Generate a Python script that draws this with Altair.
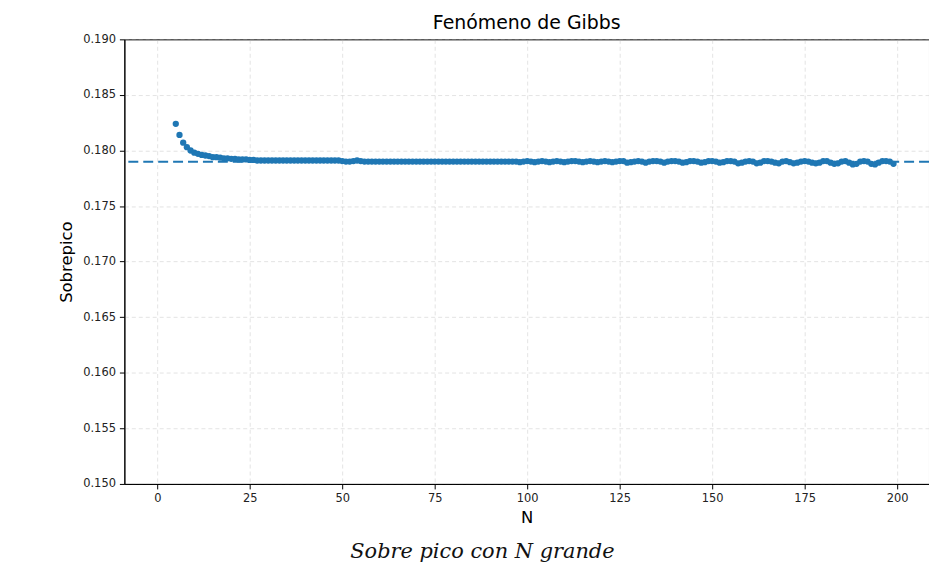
import altair as alt
import pandas as pd

N_VALUES = list(range(5, 200))
SOBREPICO = [
    0.1824, 0.1814, 0.1807, 0.1803, 0.1800, 0.1798, 0.1797, 0.1796, 0.17955, 0.1795,
    0.1794, 0.1794, 0.17935, 0.1793, 0.1793, 0.17925, 0.17925, 0.1792, 0.1792, 0.1792,
    0.17915, 0.17915, 0.1791, 0.1791, 0.1791, 0.1791, 0.1791, 0.1791, 0.1791, 0.1791,
    0.1791, 0.1791, 0.1791, 0.1791, 0.1791, 0.1791, 0.1791, 0.1791, 0.1791, 0.1791,
    0.1791, 0.1791, 0.1791, 0.1791, 0.1791, 0.17905, 0.1790, 0.1790, 0.17905, 0.1791,
    0.17905, 0.1790, 0.1790, 0.1790, 0.1790, 0.1790, 0.1790, 0.1790, 0.1790, 0.1790,
    0.1790, 0.1790, 0.1790, 0.1790, 0.1790, 0.1790, 0.1790, 0.1790, 0.1790, 0.1790,
    0.1790, 0.1790, 0.1790, 0.1790, 0.1790, 0.1790, 0.1790, 0.1790, 0.1790, 0.1790,
    0.1790, 0.1790, 0.1790, 0.1790, 0.1790, 0.1790, 0.1790, 0.1790, 0.1790, 0.1790,
    0.1790, 0.1790, 0.1790, 0.17895, 0.1790, 0.17905, 0.1790, 0.17895, 0.1790, 0.17905,
    0.1790, 0.17895, 0.1790, 0.17905, 0.1790, 0.17895, 0.1790, 0.17905, 0.17905, 0.1790,
    0.17895, 0.1790, 0.17905, 0.1790, 0.17895, 0.1790, 0.17905, 0.1790, 0.17895, 0.1790,
    0.17905, 0.17905, 0.1789, 0.17895, 0.1790, 0.17905, 0.1790, 0.1789, 0.1790, 0.17905,
    0.17905, 0.1790, 0.1789, 0.1790, 0.17905, 0.17905, 0.1790, 0.1789, 0.17895, 0.17905,
    0.17905, 0.1790, 0.1789, 0.17895, 0.17905, 0.17905, 0.1790, 0.1789, 0.17895, 0.17905,
    0.17905, 0.1790, 0.17885, 0.1789, 0.1790, 0.17905, 0.1790, 0.17885, 0.1789, 0.17905,
    0.17905, 0.1790, 0.1789, 0.17885, 0.1790, 0.17905, 0.17895, 0.17885, 0.1789, 0.1790,
    0.17905, 0.1790, 0.1789, 0.17885, 0.1789, 0.17905, 0.17905, 0.1789, 0.1788, 0.17885,
    0.1790, 0.17905, 0.1789, 0.17875, 0.1788, 0.1790, 0.17905, 0.1790, 0.1788, 0.17875,
    0.1789, 0.17905, 0.17905, 0.1790, 0.1788,
]
LIMITE = [0.17898]
X_TICKS = [0, 25, 50, 75, 100, 125, 150, 175, 200]
Y_TICKS = [0.150, 0.155, 0.160, 0.165, 0.170, 0.175, 0.180, 0.185, 0.190]
TITULO = "Fenómeno de Gibbs"
PIE = "Sobre pico con N grande"

df = pd.DataFrame({"N": N_VALUES, "Sobrepico": SOBREPICO})
df_lim = pd.DataFrame({"y": LIMITE})
df_pie = pd.DataFrame({"t": [PIE]})

BLUE = "#1f77b4"

x_scale = alt.Scale(domain=[-8.9, 208.6], nice=False, zero=False)
y_scale = alt.Scale(domain=[0.150, 0.190], nice=False, zero=False)

axis_common = dict(
    grid=True, gridDash=[4, 3], gridColor="#b0b0b0", gridOpacity=0.45, gridWidth=0.8,
    domainColor="#000000", domainWidth=1, tickColor="#000000", tickSize=5,
    labelFont="DejaVu Sans", labelFontSize=11.5, labelColor="#222222",
    titleFont="DejaVu Sans", titleFontSize=16.5, titleFontWeight="normal", titleColor="#000000",
)

points = alt.Chart(df).mark_circle(size=40, color=BLUE, opacity=1).encode(
    x=alt.X("N:Q", scale=x_scale,
            axis=alt.Axis(values=X_TICKS, format="d", title="N", labelPadding=4,
                          titlePadding=5, **axis_common)),
    y=alt.Y("Sobrepico:Q", scale=y_scale,
            axis=alt.Axis(values=Y_TICKS, format=".3f", title="Sobrepico", labelPadding=4,
                          titlePadding=8, **axis_common)),
)

rule = alt.Chart(df_lim).mark_rule(color=BLUE, strokeWidth=2, strokeDash=[10, 5]).encode(
    y=alt.Y("y:Q", scale=y_scale)
)

caption = alt.Chart(df_pie).mark_text(
    font="DejaVu Serif", fontStyle="italic", fontSize=21, color="#111111",
    align="center", baseline="middle", clip=False,
).encode(text="t:N", x=alt.value(360), y=alt.value(515))

chart = alt.layer(rule, points, caption).properties(
    width=809, height=447,
    title=alt.TitleParams(TITULO, font="DejaVu Sans", fontSize=19, fontWeight="normal",
                          color="#000000", anchor="middle", offset=0),
    autosize=alt.AutoSizeParams(type="none"),
    padding={"left": 117, "top": 30, "right": 0, "bottom": 84},
).configure_view(stroke="#000000", strokeWidth=1)

chart.save("out.html", embed_options={"renderer": "svg", "actions": False})
